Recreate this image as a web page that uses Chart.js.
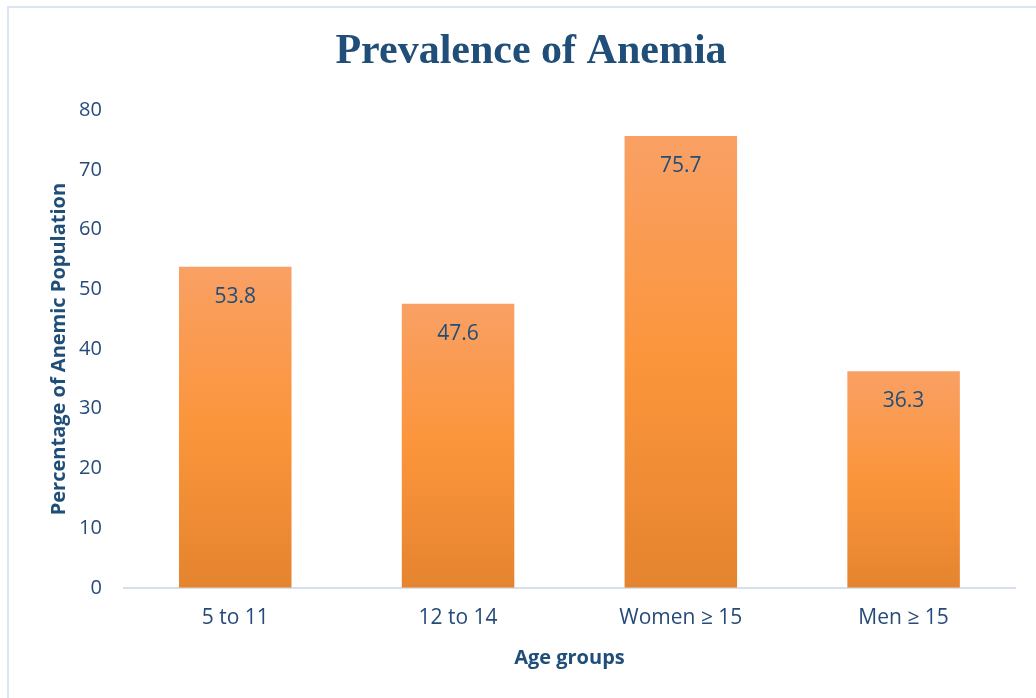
<!DOCTYPE html>
<html>
<head>
<meta charset="utf-8">
<script src="https://cdn.jsdelivr.net/npm/chart.js@4.4.0/dist/chart.umd.min.js"></script>
<style>
html,body{margin:0;padding:0;background:#fff;overflow:hidden;}
#wrap{position:absolute;left:0;top:0;width:1036px;height:698px;overflow:hidden;}
#frame{position:absolute;left:7px;top:6px;width:1060px;height:720px;border:2px solid #dbe5f3;box-sizing:border-box;pointer-events:none;}
</style>
</head>
<body>
<div id="wrap"><canvas id="c" width="1036" height="698"></canvas><div id="frame"></div></div>
<script>
const categories = ["5 to 11", "12 to 14", "Women \u2265 15", "Men \u2265 15"];
const anemiaPercent = [53.8, 47.6, 75.7, 36.3];
const yTicks = [0, 10, 20, 30, 40, 50, 60, 70, 80];

const navy = "#1f4e79";
const tickColor = "#264b7a";

function barGradient(context) {
  const chart = context.chart;
  const area = chart.chartArea;
  if (!area) return "#fb953c";
  const ys = chart.scales.y;
  const v = context.raw;
  const top = ys.getPixelForValue(v);
  const bottom = ys.getPixelForValue(0);
  const g = chart.ctx.createLinearGradient(0, top, 0, bottom);
  g.addColorStop(0, "#f9a064");
  g.addColorStop(0.5, "#fb953b");
  g.addColorStop(1, "#e5842f");
  return g;
}

const valueLabels = {
  id: "valueLabels",
  afterDatasetsDraw(chart) {
    const ctx = chart.ctx;
    const meta = chart.getDatasetMeta(0);
    ctx.save();
    ctx.fillStyle = navy;
    ctx.font = "21px 'Open Sans', sans-serif";
    ctx.textAlign = "center";
    ctx.textBaseline = "middle";
    meta.data.forEach((bar, i) => {
      ctx.fillText(String(anemiaPercent[i]), bar.x, bar.y + 30);
    });
    ctx.restore();
  }
};

const X_TICK_PAD = 18;
const Y_TICK_PAD = 22;

new Chart(document.getElementById("c"), {
  type: "bar",
  data: {
    labels: categories,
    datasets: [{
      data: anemiaPercent,
      backgroundColor: barGradient,
      borderWidth: 0,
      categoryPercentage: 1.0,
      barPercentage: 0.505
    }]
  },
  options: {
    responsive: false,
    animation: false,
    devicePixelRatio: 1,
    layout: { padding: { left: 47, right: 21, top: 10, bottom: 28 } },
    plugins: {
      legend: { display: false },
      tooltip: { enabled: false },
      title: {
        display: true,
        text: "Prevalence of Anemia",
        color: navy,
        font: { family: "'Liberation Serif', 'Times New Roman', serif", size: 42, weight: "bold" },
        padding: { top: 17, bottom: 33 }
      }
    },
    scales: {
      x: {
        afterFit(axis) { axis.height -= X_TICK_PAD; },
        grid: { display: false, drawTicks: false },
        border: { display: true, color: "#d6dfef", width: 2 },
        ticks: { color: tickColor, font: { family: "'Open Sans', sans-serif", size: 21 }, padding: X_TICK_PAD },
        title: {
          display: true, text: "Age groups", color: navy,
          font: { family: "'Open Sans', sans-serif", size: 20, weight: "bold" },
          padding: { top: 15, bottom: 0 }
        }
      },
      y: {
        min: 0, max: 80,
        afterFit(axis) { axis.width -= Y_TICK_PAD; },
        afterBuildTicks(axis) { axis.ticks = yTicks.map(v => ({ value: v })); },
        grid: { display: false, drawTicks: false },
        border: { display: false },
        ticks: { color: tickColor, font: { family: "'Open Sans', sans-serif", size: 20 }, padding: Y_TICK_PAD },
        title: {
          display: true, text: "Percentage of Anemic Population", color: navy,
          font: { family: "'Open Sans', sans-serif", size: 20, weight: "bold" },
          padding: { top: 0, bottom: 8 }
        }
      }
    }
  },
  plugins: [valueLabels]
});
</script>
</body>
</html>
